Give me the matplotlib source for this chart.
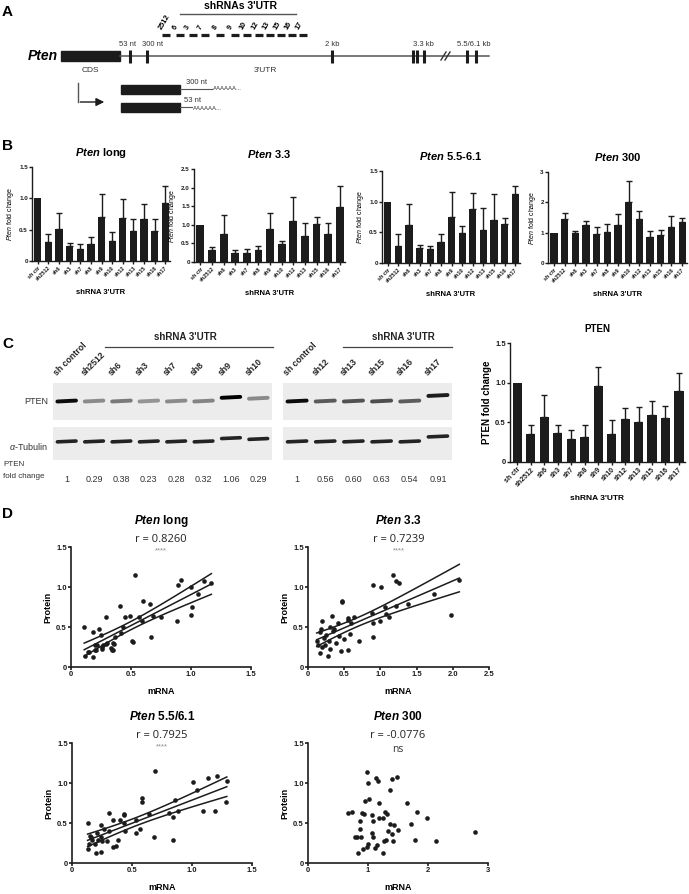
import numpy as np
import matplotlib
matplotlib.use("Agg")
import matplotlib.pyplot as plt
from matplotlib.patches import Rectangle

W, H = 689, 894

# ---- data -------------------------------------------------------------
shrna = ["sh ctr", "sh2512", "sh6", "sh3", "sh7", "sh8", "sh9", "sh10",
         "sh12", "sh13", "sh15", "sh16", "sh17"]

long_mean = [1.0, 0.30, 0.51, 0.24, 0.19, 0.27, 0.70, 0.32, 0.68, 0.48, 0.67, 0.48, 0.93]
long_err = [0, 0.13, 0.26, 0.05, 0.08, 0.11, 0.37, 0.135, 0.31, 0.19, 0.24, 0.19, 0.26]
p33_mean = [1.0, 0.32, 0.74, 0.25, 0.25, 0.32, 0.88, 0.48, 1.10, 0.70, 1.01, 0.74, 1.49]
p33_err = [0, 0.07, 0.52, 0.07, 0.11, 0.11, 0.45, 0.08, 0.64, 0.36, 0.19, 0.32, 0.54]
p55_mean = [1.0, 0.27, 0.62, 0.24, 0.23, 0.34, 0.75, 0.49, 0.88, 0.54, 0.70, 0.63, 1.12]
p55_err = [0, 0.21, 0.34, 0.06, 0.04, 0.14, 0.40, 0.11, 0.26, 0.35, 0.43, 0.11, 0.14]
p300_mean = [1.0, 1.46, 0.98, 1.26, 0.97, 1.02, 1.24, 2.0, 1.44, 0.87, 0.93, 1.19, 1.34]
p300_err = [0, 0.19, 0.06, 0.14, 0.21, 0.27, 0.38, 0.69, 0.26, 0.20, 0.17, 0.35, 0.14]
pten_mean = [1.0, 0.35, 0.57, 0.37, 0.29, 0.32, 0.96, 0.35, 0.54, 0.50, 0.59, 0.55, 0.89]
pten_err = [0, 0.12, 0.27, 0.10, 0.11, 0.15, 0.24, 0.18, 0.14, 0.19, 0.18, 0.16, 0.23]

lanes_left = ["sh control", "sh2512", "sh6", "sh3", "sh7", "sh8", "sh9", "sh10"]
fc_left = [1, 0.29, 0.38, 0.23, 0.28, 0.32, 1.06, 0.29]
lanes_right = ["sh control", "sh12", "sh13", "sh15", "sh16", "sh17"]
fc_right = [1, 0.56, 0.60, 0.63, 0.54, 0.91]

long_mrna = [0.11, 0.12, 0.18, 0.14, 0.18, 0.23, 0.21, 0.25, 0.20, 0.26, 0.29, 0.27,
             0.30, 0.33, 0.34, 0.35, 0.37, 0.41, 0.42, 0.43, 0.45, 0.49, 0.51, 0.53,
             0.57, 0.59, 0.60, 0.66, 0.67, 0.68, 0.75, 0.88, 0.89, 0.92, 1.00, 1.01,
             1.00, 1.06, 1.11, 1.17, 0.15, 0.20, 0.26, 0.29, 0.35, 0.36, 0.52, 0.22]
long_prot = [0.50, 0.14, 0.13, 0.19, 0.44, 0.48, 0.21, 0.40, 0.28, 0.25, 0.63, 0.28,
             0.30, 0.24, 0.21, 0.30, 0.37, 0.76, 0.42, 0.50, 0.62, 0.64, 0.32, 1.15,
             0.62, 0.57, 0.82, 0.79, 0.38, 0.64, 0.62, 0.57, 1.03, 1.09, 0.65, 0.75,
             1.00, 0.91, 1.07, 1.05, 0.19, 0.21, 0.23, 0.29, 0.21, 0.29, 0.31, 0.27]

p33_mrna = [1.17, 1.22, 1.26, 0.90, 1.01, 2.09, 1.74, 1.38, 1.22, 1.06, 1.08, 1.12,
            1.00, 0.90, 0.90, 1.98, 0.88, 0.64, 0.55, 0.60, 0.70, 0.58, 0.47, 0.16,
            0.27, 0.46, 0.55, 0.20, 0.47, 0.33, 0.19, 0.30, 0.41, 0.17, 0.55, 0.12,
            0.22, 0.25, 0.35, 0.38, 0.14, 0.29, 0.43, 0.18, 0.24, 0.31, 0.50, 0.36]
p33_prot = [1.15, 1.07, 1.05, 1.02, 1.00, 1.09, 0.91, 0.79, 0.76, 0.75, 0.66, 0.63,
            0.57, 0.55, 0.38, 0.65, 0.68, 0.62, 0.61, 0.55, 0.33, 0.41, 0.82, 0.17,
            0.14, 0.20, 0.21, 0.25, 0.81, 0.64, 0.57, 0.50, 0.55, 0.44, 0.59, 0.32,
            0.36, 0.40, 0.45, 0.30, 0.27, 0.33, 0.39, 0.47, 0.28, 0.22, 0.35, 0.48]

p55_mrna = [0.69, 1.01, 1.04, 1.13, 1.21, 1.29, 1.28, 1.19, 1.09, 0.86, 0.88, 0.81,
            0.84, 0.84, 0.68, 0.64, 0.58, 0.58, 0.57, 0.53, 0.53, 0.43, 0.43, 0.44,
            0.43, 0.40, 0.37, 0.34, 0.38, 0.34, 0.31, 0.31, 0.27, 0.24, 0.24, 0.24,
            0.20, 0.13, 0.14, 0.13, 0.15, 0.17, 0.19, 0.22, 0.25, 0.21, 0.29, 0.16]
p55_prot = [1.15, 1.01, 0.91, 1.06, 1.09, 1.02, 0.76, 0.65, 0.65, 0.79, 0.65, 0.62,
            0.57, 0.29, 0.32, 0.61, 0.81, 0.76, 0.42, 0.38, 0.54, 0.60, 0.61, 0.40,
            0.50, 0.54, 0.21, 0.20, 0.29, 0.54, 0.63, 0.40, 0.43, 0.48, 0.33, 0.14,
            0.13, 0.50, 0.24, 0.18, 0.34, 0.29, 0.24, 0.29, 0.28, 0.37, 0.28, 0.33]

p300_mrna = [0.98, 1.00, 1.14, 1.16, 1.40, 1.49, 1.36, 0.95, 1.02, 1.19, 1.65, 1.82,
             1.99, 0.67, 0.73, 0.90, 0.93, 1.06, 1.28, 1.31, 0.87, 1.08, 1.19, 1.25,
             1.36, 1.43, 1.71, 0.87, 1.34, 1.50, 1.40, 1.07, 1.08, 0.78, 0.82, 0.88,
             1.27, 1.30, 1.42, 1.78, 2.14, 2.79, 1.00, 0.92, 0.98, 1.12, 1.15, 0.84, 1.25]
p300_prot = [1.14, 1.00, 1.06, 1.02, 1.05, 1.08, 0.91, 0.78, 0.80, 0.75, 0.75, 0.64,
             0.56, 0.63, 0.64, 0.63, 0.61, 0.60, 0.64, 0.61, 0.53, 0.52, 0.56, 0.56,
             0.49, 0.47, 0.49, 0.43, 0.40, 0.41, 0.36, 0.37, 0.33, 0.32, 0.32, 0.33,
             0.28, 0.29, 0.28, 0.29, 0.28, 0.39, 0.24, 0.18, 0.20, 0.19, 0.22, 0.13, 0.12]

# gene schematic (pixel positions on the figure, panel A)
utr_marks = [130, 147, 332, 413, 417, 424, 467, 476]
utr_labels = [(128, "53 nt"), (153, "300 nt"), (332, "2 kb"), (423, "3.3 kb"), (474, "5.5/6.1 kb")]
sh_names = ["2512", "6", "3", "7", "8", "9", "10", "12", "13", "15", "16", "17"]
sh_left = [162, 176, 189, 201, 216, 231, 243, 255, 266, 277, 288, 299]

# ---- style ------------------------------------------------------------
plt.rcParams["font.family"] = ["Liberation Sans", "DejaVu Sans"]
plt.rcParams["mathtext.fontset"] = "custom"
plt.rcParams["mathtext.it"] = "Liberation Sans:italic"
plt.rcParams["mathtext.bf"] = "Liberation Sans:bold:italic"
plt.rcParams["mathtext.rm"] = "Liberation Sans"

INK = "#1c1c1c"
fig = plt.figure(figsize=(W / 100, H / 100), dpi=100)


def rect(l, t, r, b):
    return [l / W, 1 - b / H, (r - l) / W, (b - t) / H]


def style(ax, fs=4.5, lw=1.0):
    for s in ("top", "right"):
        ax.spines[s].set_visible(False)
    for s in ("left", "bottom"):
        ax.spines[s].set_linewidth(lw)
        ax.spines[s].set_color(INK)
    ax.tick_params(direction="out", length=2, width=lw, pad=1, labelsize=fs, colors=INK)
    for t in ax.get_yticklabels() + ax.get_xticklabels():
        t.set_fontweight("bold")


def ytl(ticks):
    out = []
    integers = all(float(v).is_integer() for v in ticks)
    for v in ticks:
        if v == 0:
            out.append("0")
        elif integers:
            out.append(f"{int(v)}")
        else:
            out.append(f"{v:.1f}")
    return out


def bar_panel(box, means, errs, yticks, title, ylabel, fs=4, tfs=8, yfs=4.5, xlfs=5.5):
    ax = fig.add_axes(rect(*box))
    x = np.arange(len(shrna))
    ax.bar(x, means, width=0.68, color=INK, zorder=2)
    m = np.array(errs) > 0
    ax.errorbar(x[m], np.array(means)[m], yerr=[np.zeros(m.sum()), np.array(errs)[m]],
                fmt="none", ecolor=INK, elinewidth=1, capsize=2, capthick=1, zorder=1)
    ax.set_xlim(-0.55, 12.45)
    ax.set_ylim(0, yticks[-1])
    ax.set_yticks(yticks)
    ax.set_yticklabels(ytl(yticks))
    ax.set_xticks(x)
    ax.set_xticklabels(shrna, rotation=45, ha="right", rotation_mode="anchor")
    style(ax, fs=yfs)
    for t in ax.get_xticklabels():
        t.set_fontsize(fs)
    ax.set_title(title, fontsize=tfs, fontweight="bold", pad=8)
    ax.set_ylabel(ylabel, fontsize=yfs + 0.5, labelpad=2)
    ax.set_xlabel("shRNA 3'UTR", fontsize=xlfs, fontweight="bold", labelpad=5)
    return ax


# ---- overlay for schematic, letters, blot annotations -----------------
ov = fig.add_axes([0, 0, 1, 1])
ov.set_xlim(0, W)
ov.set_ylim(H, 0)
ov.axis("off")

for letter, y in (("A", 12), ("B", 146), ("C", 344), ("D", 514)):
    ov.text(2, y, letter, fontsize=11, fontweight="bold", va="center", ha="left")

# panel A
ov.text(58, 56, "Pten", fontsize=10, fontweight="bold", fontstyle="italic", ha="right", va="center")
ov.plot([120, 489], [56, 56], color="#555555", lw=1.1)
ov.add_patch(Rectangle((61, 51), 59, 10, color=INK))
for xm in utr_marks:
    ov.plot([xm, xm], [49.5, 62.5], color=INK, lw=2.2, solid_capstyle="butt")
for xl, lab in utr_labels:
    ov.text(xl, 44, lab, fontsize=5.5, ha="center", va="center", color="#333333")
ov.plot([441, 446], [60, 52], color="#333333", lw=1)
ov.plot([445, 450], [60, 52], color="#333333", lw=1)
ov.text(90, 71, "CDS", fontsize=6, ha="center", va="center", color="#333333")
ov.text(265, 71, "3'UTR", fontsize=6, ha="center", va="center", color="#333333")
for xs, nm in zip(sh_left, sh_names):
    ov.plot([xs, xs + 8], [35, 35], color=INK, lw=2.3, solid_capstyle="butt")
    ov.text(xs + 1, 31, nm, fontsize=5.3, fontweight="bold", rotation=60,
            ha="left", va="bottom", rotation_mode="anchor")
ov.text(240, 6, "shRNAs 3'UTR", fontsize=7.5, fontweight="bold", ha="center", va="center")
ov.plot([180, 296], [14, 14], color="#555555", lw=1)
ov.plot([78, 78], [83, 102], color="#555555", lw=1)
ov.annotate("", xy=(107, 102), xytext=(77.5, 102),
            arrowprops=dict(arrowstyle="-|>", color=INK, lw=1, mutation_scale=12))
ov.add_patch(Rectangle((121, 85), 59, 9, color=INK))
ov.add_patch(Rectangle((121, 103), 59, 9, color=INK))
ov.plot([180, 212], [89, 89], color="#555555", lw=0.8)
ov.plot([180, 192], [107, 107], color="#555555", lw=0.8)
ov.text(186, 82, "300 nt", fontsize=5.5, ha="left", va="center", color="#333333")
ov.text(184, 101, "53 nt", fontsize=5.5, ha="left", va="center", color="#333333")
ov.text(213, 89, "AAAAAA...", fontsize=4.3, ha="left", va="center", color="#333333")
ov.text(193, 108, "AAAAAA...", fontsize=4.3, ha="left", va="center", color="#333333")

# ---- panel B ----------------------------------------------------------
ylab = r"$\mathit{Pten}$ fold change"
bar_panel((32, 167, 170, 261), long_mean, long_err, [0, 0.5, 1.0, 1.5], r"$\mathbf{Pten}$ long", ylab)
bar_panel((194, 169, 345, 262), p33_mean, p33_err, [0, 0.5, 1.0, 1.5, 2.0, 2.5], r"$\mathbf{Pten}$ 3.3", ylab)
bar_panel((382, 171, 520, 263), p55_mean, p55_err, [0, 0.5, 1.0, 1.5], r"$\mathbf{Pten}$ 5.5-6.1", ylab)
bar_panel((548, 172, 687, 263), p300_mean, p300_err, [0, 1, 2, 3], r"$\mathbf{Pten}$ 300", ylab)


# ---- panel C blots ----------------------------------------------------
def blot(box_p, box_t, lanes, fcs, shift):
    n = len(lanes)
    ap = fig.add_axes(rect(*box_p))
    at = fig.add_axes(rect(*box_t))
    for a in (ap, at):
        a.set_xlim(-0.5, n - 0.5)
        a.set_ylim(-1, 1)
        a.set_facecolor("#ececec")
        a.set_xticks([])
        a.set_yticks([])
        for s in a.spines.values():
            s.set_visible(False)
    for i, v in enumerate(fcs):
        ap.plot([i - 0.34, i + 0.34], [0 + shift[i], 0.05 + shift[i]], color="black",
                lw=2.8, alpha=min(1.0, 0.2 + 0.75 * v), solid_capstyle="round")
        at.plot([i - 0.34, i + 0.34], [0.1 + shift[i], 0.15 + shift[i]], color="black",
                lw=2.6, alpha=0.85, solid_capstyle="round")
        lab = "1" if v == 1 else f"{v:.2f}"
        at.text(i, -0.6, lab, transform=at.get_xaxis_transform(), ha="center",
                va="center", fontsize=6.5, color="#333333")
    for i, nm in enumerate(lanes):
        ap.text(i - 0.3, 1.16, nm, transform=ap.get_xaxis_transform(), rotation=45,
                ha="left", va="bottom", rotation_mode="anchor", fontsize=6.3,
                fontweight="bold", color="#222222")
    return ap, at


blot((53, 383, 272, 420), (53, 427, 272, 460), lanes_left, fc_left, [0, 0, 0, 0, 0, 0, 0.2, 0.15])
blot((283, 383, 452, 420), (283, 427, 452, 460), lanes_right, fc_right, [0, 0, 0, 0, 0, 0.3])
ov.text(185, 337, "shRNA 3'UTR", fontsize=7, fontweight="bold", ha="center", va="center", color="#222222")
ov.plot([105, 273], [347, 347], color="#444444", lw=0.9)
ov.text(403, 337, "shRNA 3'UTR", fontsize=7, fontweight="bold", ha="center", va="center", color="#222222")
ov.plot([343, 452], [347, 347], color="#444444", lw=0.9)
ov.text(48, 402, "PTEN", fontsize=6.5, ha="right", va="center", color="#333333")
ov.text(48, 446, r"$\alpha$-Tubulin", fontsize=6.5, ha="right", va="center", color="#333333")
ov.text(3, 465, "PTEN", fontsize=5.8, ha="left", va="center", color="#333333")
ov.text(3, 477, "fold change", fontsize=5.8, ha="left", va="center", color="#333333")

# panel C bars
axc = bar_panel((510, 343, 685, 462), pten_mean, pten_err, [0, 0.5, 1.0, 1.5], "PTEN",
                "PTEN fold change", fs=5, tfs=7, yfs=5.5, xlfs=6)
axc.yaxis.label.set_fontsize(7)
axc.yaxis.label.set_fontweight("bold")


# ---- panel D scatters -------------------------------------------------
def fit_lines(ax, xs, ys):
    xs = np.asarray(xs)
    ys = np.asarray(ys)
    n = len(xs)
    b, a = np.polyfit(xs, ys, 1)
    res = ys - (a + b * xs)
    s = np.sqrt((res ** 2).sum() / (n - 2))
    xg = np.linspace(xs.min(), xs.max(), 100)
    se = s * np.sqrt(1 / n + (xg - xs.mean()) ** 2 / ((xs - xs.mean()) ** 2).sum())
    yg = a + b * xg
    for yy in (yg, yg - 2.01 * se, yg + 2.01 * se):
        ax.plot(xg, yy, color=INK, lw=1.1, zorder=2)


def scatter_panel(box, xs, ys, xmax, xticks, title, rtxt, star):
    ax = fig.add_axes(rect(*box))
    ax.scatter(xs, ys, s=11, color=INK, zorder=3, linewidths=0)
    ax.set_xlim(0, xmax)
    ax.set_ylim(0, 1.5)
    ax.set_yticks([0, 0.5, 1.0, 1.5])
    ax.set_yticklabels(ytl([0, 0.5, 1.0, 1.5]))
    ax.set_xticks(xticks)
    ax.set_xticklabels(ytl(xticks))
    style(ax, fs=5.5, lw=1.2)
    ax.set_xlabel("mRNA", fontsize=6.5, fontweight="bold", labelpad=6)
    ax.set_ylabel("Protein", fontsize=6.5, fontweight="bold", labelpad=3)
    cx = 0.5
    ax.text(cx, 1.22, title, transform=ax.transAxes, ha="center", va="center",
            fontsize=8.5, fontweight="bold")
    ax.text(cx, 1.06, rtxt, transform=ax.transAxes, ha="center", va="center",
            fontsize=8, family=["Open Sans", "DejaVu Sans"], color="#222222")
    if star == "ns":
        ax.text(cx, 0.945, star, transform=ax.transAxes, ha="center", va="center",
                fontsize=7.5, family=["Open Sans", "DejaVu Sans"], color="#333333")
    else:
        ax.text(cx, 0.97, star, transform=ax.transAxes, ha="center", va="center",
                fontsize=5.5, color="#888888")
    return ax


a1 = scatter_panel((71, 547, 251, 667), long_mrna, long_prot, 1.5, [0, 0.5, 1.0, 1.5],
                   r"$\mathbf{Pten}$ long", "r = 0.8260", "****")
fit_lines(a1, long_mrna, long_prot)
a2 = scatter_panel((308, 547, 489, 667), p33_mrna, p33_prot, 2.5, [0, 0.5, 1.0, 1.5, 2.0, 2.5],
                   r"$\mathbf{Pten}$ 3.3", "r = 0.7239", "****")
fit_lines(a2, p33_mrna, p33_prot)
a3 = scatter_panel((72, 743, 252, 863), p55_mrna, p55_prot, 1.5, [0, 0.5, 1.0, 1.5],
                   r"$\mathbf{Pten}$ 5.5/6.1", "r = 0.7925", "****")
fit_lines(a3, p55_mrna, p55_prot)
scatter_panel((308, 743, 488, 863), p300_mrna, p300_prot, 3, [0, 1, 2, 3],
              r"$\mathbf{Pten}$ 300", "r = -0.0776", "ns")

fig.savefig("out.png", dpi=100)
